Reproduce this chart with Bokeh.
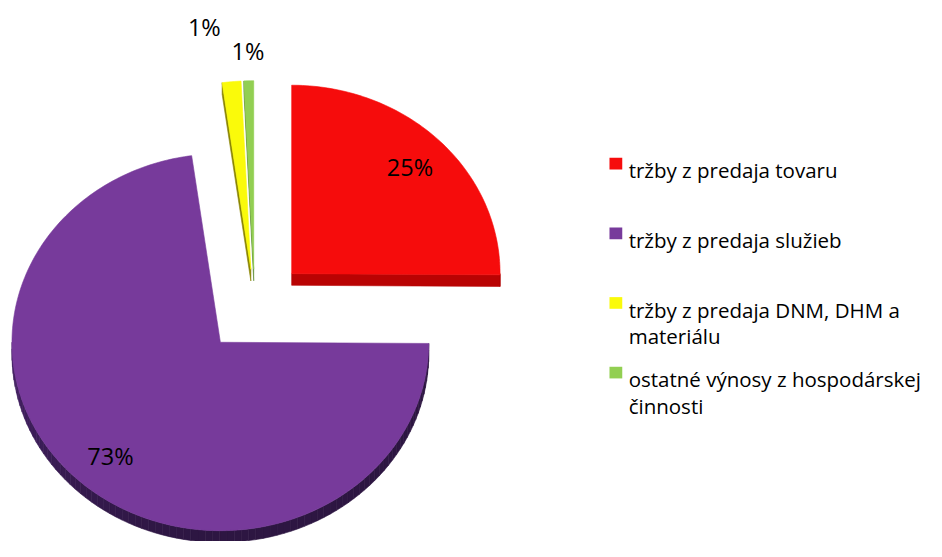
import math
import textwrap
import numpy as np
from bokeh.plotting import figure
from bokeh.models import Range1d
from bokeh.embed import file_html
from bokeh.resources import INLINE
from bokeh.core.properties import value

# ---- data ----
categories = [
    "tržby z predaja tovaru",
    "tržby z predaja služieb",
    "tržby z predaja DNM, DHM a materiálu",
    "ostatné výnosy z hospodárskej činnosti",
]
shares = [25.1, 72.7, 1.45, 0.75]

# ---- styles / layout ----
top_colors = ["#F60C0C", "#773A9B", "#FAFA0A", "#92CF52"]
edge_colors = ["#B90303", "#2F1745", "#8A8400", "#5C8A30"]
explode = [0.25, 0.25, 0.2, 0.2]
label_r = [0.8, 0.8, 1.29, 1.16]
label_dx = [0, 0, -22, 0]
FONT = "Open Sans"

W, H = 926, 541
CX, CY, RX, RY, DEPTH = 258.6, 315.4, 212.0, 194.0, 12.0

p = figure(width=W, height=H, x_range=Range1d(0, 942), y_range=Range1d(557, 0),
           output_backend="svg", toolbar_location=None, min_border=0,
           x_axis_location=None, y_axis_location=None)
p.grid.visible = False
p.outline_line_color = None


def hex2rgb(h):
    h = h.lstrip("#")
    return tuple(int(h[i:i + 2], 16) for i in (0, 2, 4))


def shade(h, m):
    r, g, b = hex2rgb(h)
    return "#%02x%02x%02x" % tuple(max(0, min(255, int(round(c * m)))) for c in (r, g, b))


def pt(cx, cy, th):
    t = math.radians(th)
    return cx + RX * math.sin(t), cy - RY * math.cos(t)


total = float(sum(shares))
bounds = np.concatenate([[0.0], np.cumsum(shares)]) / total * 360.0

side_xs, side_ys, side_c = [], [], []
top_xs, top_ys, top_c = [], [], []
lab_x, lab_y, lab_t = [], [], []

for i, v in enumerate(shares):
    a0, a1 = bounds[i], bounds[i + 1]
    mid = (a0 + a1) / 2.0
    e = explode[i]
    sx = CX + e * RX * math.sin(math.radians(mid))
    sy = CY - e * RY * math.cos(math.radians(mid))

    # top face
    n = max(int(a1 - a0) + 2, 3)
    arc = [pt(sx, sy, th) for th in np.linspace(a0, a1, n)]
    top_xs.append([sx] + [q[0] for q in arc])
    top_ys.append([sy] + [q[1] for q in arc])
    top_c.append(top_colors[i])

    # radial faces
    for ang, vis in ((a0, math.sin(math.radians(a0)) < -1e-6),
                     (a1, math.sin(math.radians(a1)) > 1e-6)):
        if vis:
            rx_, ry_ = pt(sx, sy, ang)
            side_xs.append([sx, rx_, rx_, sx])
            side_ys.append([sy, ry_, ry_ + DEPTH, sy + DEPTH])
            side_c.append(edge_colors[i])

    # outer rim (front facing part)
    lo, hi = max(a0, 90.0), min(a1, 270.0)
    if hi > lo:
        steps = np.linspace(lo, hi, max(int((hi - lo) / 2) + 2, 2))
        for t0, t1 in zip(steps[:-1], steps[1:]):
            q0, q1 = pt(sx, sy, t0), pt(sx, sy, t1)
            tm = (t0 + t1) / 2.0
            m = 0.95 + 0.55 * max(0.0, (tm - 180.0) / 90.0) ** 1.5
            side_xs.append([q0[0], q1[0], q1[0], q0[0]])
            side_ys.append([q0[1], q1[1], q1[1] + DEPTH, q0[1] + DEPTH])
            side_c.append(shade(edge_colors[i], m))

    # label
    k = label_r[i]
    lab_x.append(sx + k * RX * math.sin(math.radians(mid)) + label_dx[i])
    lab_y.append(sy - k * RY * math.cos(math.radians(mid)))
    lab_t.append("%d%%" % int(round(v)))

p.patches(side_xs, side_ys, fill_color=side_c, line_color=side_c, line_width=0.6)
p.patches(top_xs, top_ys, fill_color=top_c, line_color=top_c, line_width=0.6)

p.text(x=lab_x, y=lab_y, text=lab_t, text_align="center", text_baseline="middle",
       text_font=value(FONT), text_font_size="23.5px", text_color="#000000")

# ---- legend ----
LEG_X, LEG_Y0, LEG_STEP, LINE_H = 639, 175, 71.7, 27
lx, ly, lt = [], [], []
sq_x, sq_y = [], []
for i, name in enumerate(categories):
    base = LEG_Y0 + i * LEG_STEP
    sq_x.append(LEG_X - 13)
    sq_y.append(base - 7)
    for j, line in enumerate(textwrap.wrap(name, width=29)):
        lx.append(LEG_X)
        ly.append(base + j * LINE_H)
        lt.append(line)

p.rect(x=sq_x, y=sq_y, width=13, height=12, fill_color=top_colors, line_color=None)
p.text(x=lx, y=ly, text=lt, text_align="left", text_baseline="alphabetic",
       text_font=value(FONT), text_font_size="20.5px", text_color="#000000")

open("out.html", "w").write(file_html(p, INLINE))
